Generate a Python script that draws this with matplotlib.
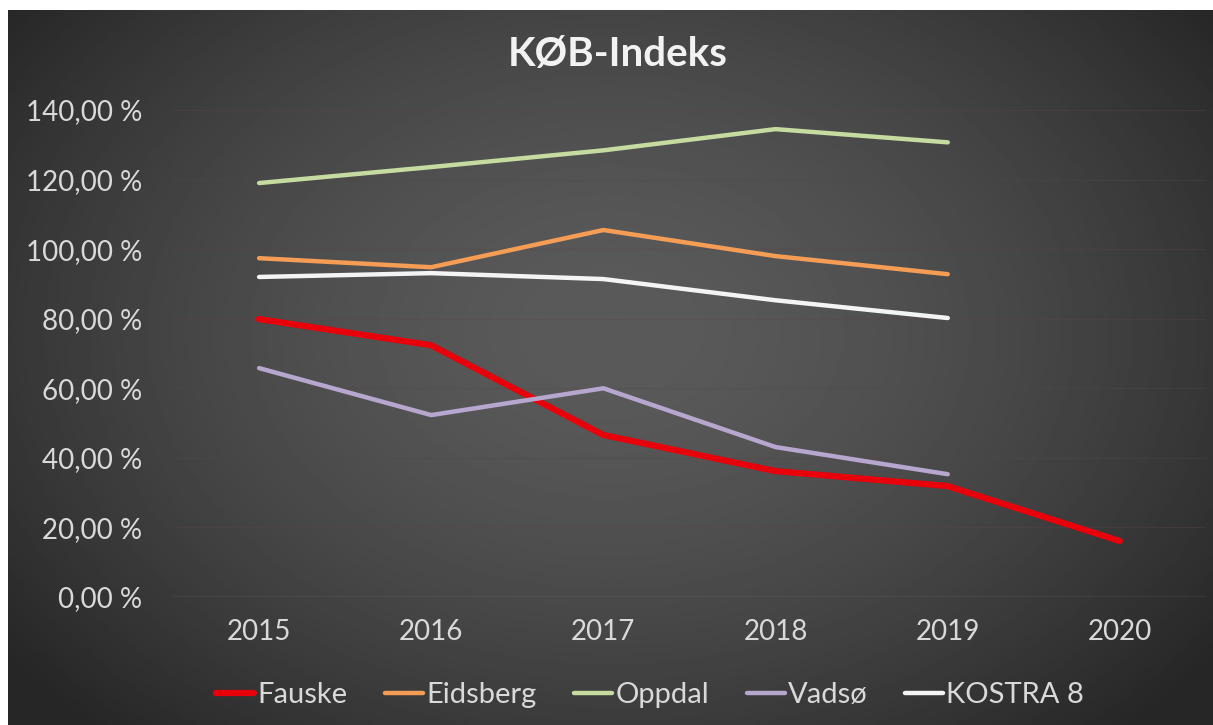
import numpy as np
import matplotlib
matplotlib.use('Agg')
from matplotlib import pyplot as plt
from matplotlib.ticker import FuncFormatter

plt.rcParams['font.family'] = ['Lato', 'DejaVu Sans']

years = ['2015', '2016', '2017', '2018', '2019', '2020']
fauske = [79.9, 72.4, 46.6, 36.2, 31.9, 16.1]
eidsberg = [97.4, 94.8, 105.5, 98.0, 92.8]
oppdal = [119.0, 123.6, 128.4, 134.5, 130.7]
vadso = [65.8, 52.3, 60.0, 43.1, 35.3]
kostra8 = [92.0, 93.1, 91.4, 85.3, 80.2]

series = [
	('Fauske', fauske, '#e8000b', 4.5),
	('Eidsberg', eidsberg, '#f59c55', 3.2),
	('Oppdal', oppdal, '#c5dba0', 3.2),
	('Vadsø', vadso, '#b7a7cf', 3.2),
	('KOSTRA 8', kostra8, '#f4f4f4', 3.2),
]

W, H = 1213, 725
fig = plt.figure(figsize=(W / 100, H / 100), dpi=100)
fig.patch.set_facecolor('white')

# dark radial gradient background of the chart area
bg = fig.add_axes([8 / W, 0, 1 - 8 / W, 1 - 10 / H])
yy, xx = np.mgrid[0:1:300j, 0:1:500j]
r = np.sqrt(((xx - 0.5) / 0.62) ** 2 + ((yy - 0.45) / 0.75) ** 2)
shade = np.clip(0.355 - 0.2 * r ** 1.6, 0.15, 0.36)
bg.imshow(shade, cmap='gray', vmin=0, vmax=1, aspect='auto', extent=[0, 1, 0, 1])
bg.set_axis_off()

ax = fig.add_axes([173 / W, 1 - 597 / H, 1033 / W, 487 / H])
ax.set_facecolor('none')

x = np.arange(len(years))
for name, vals, color, lw in series:
	ax.plot(x[:len(vals)], vals, color=color, lw=lw, label=name,
			solid_capstyle='round', solid_joinstyle='round')

ax.set_xlim(-0.5, len(years) - 0.5)
ax.set_ylim(0, 140)
ax.set_yticks(np.arange(0, 141, 20))
ax.yaxis.set_major_formatter(FuncFormatter(lambda v, p: '{:.2f} %'.format(v).replace('.', ',')))
ax.set_xticks(x)
ax.set_xticklabels(years)

for sp in ax.spines.values():
	sp.set_visible(False)
ax.tick_params(length=0, colors='#d9d9d9', labelsize=20)
ax.tick_params(axis='x', pad=16)
ax.tick_params(axis='y', pad=22)
ax.grid(axis='y', color='#5e4646', lw=0.8, alpha=0.35)
ax.axhline(0, color='#6c6c6c', lw=1.0)
ax.set_axisbelow(True)

fig.text(0.509, 1 - 55 / H, 'KØB-Indeks', ha='center', va='center',
		 fontsize=29, fontweight='bold', color='#f2f2f2')

leg = fig.legend(loc='center', bbox_to_anchor=(0.536, 1 - 695 / H), ncol=5,
				 frameon=False, fontsize=21, handlelength=1.3, handletextpad=0.1,
				 columnspacing=1.3, labelcolor='#d9d9d9')

fig.savefig('out.png', dpi=100, facecolor=fig.get_facecolor())
